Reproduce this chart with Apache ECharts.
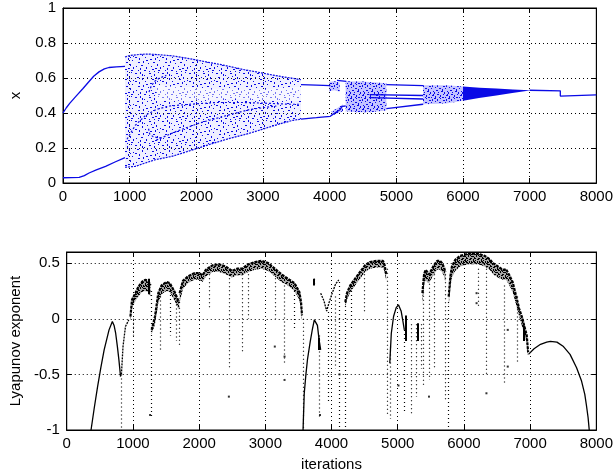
<!DOCTYPE html>
<html><head><meta charset="utf-8">
<script src="https://cdn.jsdelivr.net/npm/echarts@6/dist/echarts.min.js"></script>
<style>html,body{margin:0;padding:0;background:#fff}#c{width:616px;height:476px}</style>
</head><body><div id="c"></div>
<script>
// ================= DATA: top panel (x vs iterations) =================
const xTickValues = [0, 1000, 2000, 3000, 4000, 5000, 6000, 7000, 8000];
const xTopTicks = [0, 0.2, 0.4, 0.6, 0.8, 1];
const lyapTicks = [-1, -0.5, 0, 0.5];

const earlyUpper = [[0,0.40],[50,0.43],[100,0.455],[193,0.495],[300,0.54],[391,0.58],[460,0.61],[540,0.635],[620,0.652],[689,0.66],[800,0.664],[930,0.666]];
const earlyLower = [[0,0.03],[243,0.032],[320,0.042],[391,0.057],[500,0.075],[639,0.095],[780,0.12],[930,0.145]];

const cloud1Upper = [[930,0.72],[1000,0.728],[1150,0.735],[1283,0.737],[1450,0.733],[1631,0.727],[1800,0.717],[1978,0.705],[2175,0.69],[2375,0.676],[2572,0.66],[2721,0.647],[2900,0.635],[3100,0.62],[3300,0.607],[3450,0.598],[3570,0.59]];
const cloud1Lower = [[930,0.09],[1085,0.095],[1200,0.11],[1383,0.133],[1631,0.152],[1878,0.181],[2075,0.205],[2275,0.229],[2500,0.255],[2721,0.276],[2900,0.296],[3100,0.32],[3300,0.343],[3450,0.358],[3570,0.365]];
const cloud1GapTop = [[1400,0.56],[1800,0.55],[2200,0.54],[2600,0.535],[3000,0.535],[3300,0.545],[3570,0.55]];
const cloud1GapBottom = [[1400,0.47],[1800,0.47],[2200,0.475],[2600,0.48],[3000,0.475],[3300,0.47],[3570,0.47]];
const cloud1Inner1 = [[960,0.25],[1085,0.33],[1250,0.39],[1400,0.42],[1600,0.44],[1900,0.45],[2300,0.46],[2700,0.46],[3100,0.455],[3400,0.45],[3570,0.45]];
const cloud1Inner2 = [[1400,0.245],[1700,0.295],[2050,0.343],[2400,0.38],[2800,0.42],[3200,0.44]];
const hookUpper = [[1290,0.52],[1320,0.55],[1370,0.58],[1450,0.60],[1550,0.615]];
const hookLower = [[1283,0.31],[1300,0.28],[1350,0.265],[1430,0.258],[1500,0.26]];

const midUpperLine = [[3570,0.562],[3800,0.559],[4010,0.556]];
const midLowerLine = [[3570,0.365],[3800,0.373],[4010,0.381],[4060,0.396],[4160,0.42],[4183,0.438],[4240,0.44]];
const cloud2Upper = [[3990,0.578],[4070,0.582],[4150,0.575]];
const cloud2Lower = [[3990,0.525],[4070,0.53],[4150,0.522]];
const step4100Line = [[4110,0.586],[4250,0.581]];
const blob4100Upper = [[4030,0.41],[4100,0.425],[4200,0.45]];
const blob4100Lower = [[4030,0.385],[4100,0.395],[4200,0.41]];
const cloud3Upper = [[4240,0.582],[4500,0.58],[4700,0.575],[4850,0.57]];
const cloud3Lower = [[4240,0.41],[4400,0.405],[4600,0.405],[4850,0.415]];
const lateUpperLine = [[4850,0.562],[5400,0.556]];
const lateMidLine1 = [[4600,0.505],[5400,0.50]];
const lateMidLine2 = [[4600,0.488],[5400,0.48]];
const lateLowerLine = [[4850,0.425],[5400,0.45]];
const cloud4Upper = [[5400,0.558],[5750,0.558],[6000,0.552]];
const cloud4Lower = [[5400,0.45],[5750,0.455],[6000,0.47]];
const cloud5Upper = [[6000,0.552],[6250,0.545],[6500,0.54],[6750,0.535],[7000,0.53]];
const cloud5Lower = [[6000,0.47],[6240,0.486],[6500,0.50],[6740,0.514],[7000,0.528]];
const tailLine = [[7000,0.53],[7460,0.527],[7460,0.497],[7480,0.503],[8000,0.503]];

// ================= DATA: bottom panel (Lyapunov exponent) =================
const lyapCurve1 = [[367,-1],[416,-0.80],[466,-0.61],[515,-0.44],[565,-0.28],[639,-0.10],[689,-0.024],[715,-0.06],[739,-0.13],[765,-0.25],[788,-0.37],[813,-0.52]];
const lyapCurve1b = [[826,-0.50],[850,-0.25],[887,-0.07],[937,-0.01]];
const arch1Top = [[962,0.02],[986,0.17],[1036,0.23],[1085,0.29],[1135,0.33],[1185,0.35],[1234,0.34],[1265,0.30]];
const arch1Bot = [[962,-0.02],[986,0.10],[1036,0.16],[1085,0.20],[1135,0.24],[1185,0.25],[1234,0.24],[1265,0.20]];
const arch2Top = [[1283,-0.10],[1333,0.02],[1383,0.23],[1432,0.30],[1507,0.33],[1557,0.32],[1631,0.24],[1680,0.17],[1700,0.14]];
const arch2Bot = [[1283,-0.14],[1333,-0.05],[1383,0.14],[1432,0.22],[1507,0.25],[1557,0.24],[1631,0.16],[1680,0.10],[1700,0.08]];
const arch3Top = [[1705,0.23],[1755,0.34],[1829,0.38],[1928,0.41],[2003,0.41],[2052,0.39],[2101,0.44],[2201,0.48],[2300,0.49],[2399,0.47],[2498,0.43],[2572,0.45],[2647,0.45],[2746,0.49],[2845,0.51],[2944,0.52],[3044,0.50],[3143,0.45],[3242,0.40],[3341,0.36],[3440,0.32],[3514,0.24],[3539,0.15],[3554,0.03]];
const arch3Bot = [[1705,0.14],[1755,0.27],[1829,0.32],[1928,0.35],[2003,0.35],[2052,0.33],[2101,0.38],[2201,0.42],[2300,0.42],[2399,0.40],[2498,0.37],[2572,0.39],[2647,0.39],[2746,0.42],[2845,0.44],[2944,0.45],[3044,0.43],[3143,0.38],[3242,0.33],[3341,0.30],[3440,0.25],[3514,0.17],[3539,0.08],[3554,-0.02]];
const lyapCurve2 = [[3570,-1],[3575,-0.9],[3588,-0.67],[3613,-0.50],[3638,-0.36],[3677,-0.21],[3712,-0.09],[3740,-0.01],[3752,0.005],[3787,-0.06],[3812,-0.19],[3836,-0.28]];
const vShape = [[3836,0.23],[3886,0.16],[3926,0.07],[3960,0.14],[4010,0.23],[4060,0.31],[4109,0.35]];
const arch4Top = [[4208,0.15],[4233,0.23],[4283,0.30],[4357,0.36],[4431,0.42],[4506,0.48],[4580,0.51],[4680,0.52],[4778,0.52],[4803,0.48],[4825,0.40]];
const arch4Bot = [[4208,0.10],[4233,0.17],[4283,0.24],[4357,0.30],[4431,0.36],[4506,0.42],[4580,0.45],[4680,0.46],[4778,0.46],[4803,0.42],[4825,0.34]];
const lyapCurve3 = [[4880,-0.40],[4903,-0.13],[4937,0.02],[4977,0.10],[5011,0.125],[5051,0.07],[5075,-0.01],[5100,-0.10]];
const arch5Top = [[5373,0.23],[5398,0.40],[5422,0.44],[5447,0.42],[5472,0.40],[5510,0.44],[5546,0.48],[5596,0.52],[5640,0.52],[5670,0.50],[5700,0.46],[5720,0.42]];
const arch5Bot = [[5373,0.13],[5398,0.30],[5422,0.35],[5447,0.33],[5472,0.32],[5510,0.36],[5546,0.40],[5596,0.44],[5640,0.44],[5670,0.42],[5700,0.38],[5720,0.33]];
const arch6Top = [[5770,0.20],[5795,0.38],[5819,0.47],[5869,0.53],[5943,0.565],[6067,0.585],[6216,0.585],[6315,0.565],[6390,0.535],[6439,0.50],[6513,0.47],[6587,0.44],[6637,0.445],[6687,0.39],[6736,0.33],[6786,0.21],[6835,0.09],[6885,0.0],[6910,-0.06],[6949,-0.15],[6970,-0.30]];
const arch6Bot = [[5770,0.12],[5795,0.28],[5819,0.37],[5869,0.43],[5943,0.47],[6067,0.49],[6216,0.49],[6315,0.47],[6390,0.44],[6439,0.40],[6513,0.37],[6587,0.35],[6637,0.35],[6687,0.30],[6736,0.24],[6786,0.13],[6835,0.02],[6885,-0.08],[6910,-0.13],[6949,-0.22],[6965,-0.33]];
const lyapCurve4 = [[6975,-0.32],[7000,-0.31],[7059,-0.27],[7157,-0.23],[7250,-0.21],[7306,-0.204],[7405,-0.21],[7504,-0.25],[7603,-0.32],[7702,-0.44],[7777,-0.56],[7826,-0.68],[7851,-0.78],[7876,-0.89],[7893,-1]];
// vertical dotted streaks: [iteration, top, bottom]
const lyapColumns = [[820,-0.5,-1],[1000,0.0,-0.15],[1270,0.25,-0.9],[1420,0.2,-0.3],[1557,0.25,-0.15],[1650,0.2,-0.2],[1700,0.1,-0.25],[2150,0.4,0.1],[2460,0.4,-0.45],[2650,0.4,-0.3],[2746,0.4,0.0],[3143,0.4,0.0],[3285,0.3,-0.4],[3440,0.25,-0.1],[3580,0.0,-1],[3737,0.36,0.29],[3812,-0.15,-0.9],[3955,0.06,-0.75],[4050,0.2,-0.45],[4120,0.33,-1],[4208,0.15,-1],[4300,0.25,-0.1],[4500,0.4,0.05],[4848,0.45,-0.88],[4880,-0.25,-0.9],[5100,-0.1,-0.85],[5204,-0.05,-0.85],[5274,-0.05,-0.7],[5348,-0.05,-0.45],[5383,0.35,-0.6],[5472,0.35,-0.55],[5546,0.4,-0.45],[5720,0.4,-0.75],[5770,0.15,-1],[6216,0.45,0.1],[6340,0.45,-0.5],[6612,0.3,-0.6],[6810,0.2,-0.4]];
// short solid streaks: [iteration, top, bottom]
const lyapBars = [[3812,-0.17,-0.28],[5126,0.03,-0.2],[5300,-0.04,-0.2],[6910,-0.06,-0.2],[1240,0.36,0.22],[3737,0.36,0.30]];
const lyapDots = [[2449,-0.70],[1259,-0.865],[3290,-0.34],[3290,-0.55],[3143,-0.25],[5472,-0.70],[3826,-0.865],[6340,-0.67],[6662,-0.43],[6662,-0.10],[6191,0.23],[6191,0.14],[4120,-0.5],[5011,-0.6]];

// ================= RENDER =================
const FONT = 'Liberation Sans, Arial, sans-serif';
const BLUE = '#0a0ae6';

function makePattern(color, dots, w, h, bg) {
  const c = document.createElement('canvas'); c.width = w; c.height = h;
  const g = c.getContext('2d');
  if (bg) { g.fillStyle = bg; g.fillRect(0, 0, w, h); }
  g.fillStyle = color;
  dots.forEach((d, i) => g.fillRect(d[0], d[1], i % 3 === 0 ? 2 : 1, i % 3 === 1 ? 2 : 1));
  return { image: c, repeat: 'repeat' };
}
const sparseTile = [[0,1],[5,0],[9,3],[14,1],[19,2],[23,0],[2,5],[7,6],[12,5],[17,7],[21,5],[25,8],[0,9],[4,10],[10,9],[15,11],[20,10],[24,12],[3,14],[8,13],[13,15],[18,14],[22,16],[1,18],[6,17],[11,19],[16,18],[20,20],[25,19],[3,22],[9,22],[14,23],[19,23],[23,22],[7,2],[16,4],[11,12],[5,20],[22,9],[17,21]];
const denseTile = [[0,0],[3,1],[6,0],[9,2],[12,1],[1,3],[5,4],[8,5],[11,4],[2,6],[0,8],[4,8],[7,7],[10,8],[13,7],[3,10],[6,11],[9,10],[12,11],[1,12],[5,13],[8,13],[11,13],[13,10]];
const blackTile = [[0,0],[2,1],[4,0],[6,2],[1,3],[3,4],[5,3],[7,5],[0,6],[2,6],[4,7],[6,7],[1,5],[5,5],[3,2],[7,0]];
const blueSparse = makePattern(BLUE, sparseTile, 27, 24, 'rgba(120,120,255,0.12)');
const blueDense = makePattern(BLUE, denseTile, 14, 14, 'rgba(60,60,255,0.30)');
const blackDense = makePattern('#000', blackTile, 8, 8, 'rgba(0,0,0,0.35)');

function band(upper, lower, fill, gi, z) {
  return {
    type: 'custom', xAxisIndex: gi * 2, yAxisIndex: gi * 2, z: z || 2, silent: true,
    data: [[upper[0][0], upper[0][1]]],
    renderItem: function (params, api) {
      const pts = upper.map(p => api.coord(p)).concat(lower.slice().reverse().map(p => api.coord(p)));
      return { type: 'polygon', shape: { points: pts }, style: { fill: fill, stroke: null } };
    }
  };
}
function line(data, color, width, gi, type, z) {
  return { type: 'line', data: data, xAxisIndex: gi * 2, yAxisIndex: gi * 2, symbol: 'none', silent: true,
    lineStyle: { color: color, width: width, type: type || 'solid' }, z: z || 4 };
}

const gridLine = { type: [1, 3], color: '#000', width: 1 };
function xAx(gi, pos, name) {
  const main = pos === 'bottom';
  return {
    gridIndex: gi, type: 'value', min: xTickValues[0], max: xTickValues[xTickValues.length - 1], interval: 1000, position: pos,
    name: name || '', nameLocation: 'middle', nameGap: 27,
    nameTextStyle: { color: '#000', fontSize: 15, fontFamily: FONT },
    axisLine: { show: true, onZero: false, lineStyle: { color: '#000', width: 1 } },
    axisTick: { show: true, inside: true, length: 5, lineStyle: { color: '#000' } },
    axisLabel: { show: main, color: '#000', fontSize: 15, fontFamily: FONT, margin: 6, formatter: v => String(v) },
    splitLine: { show: main, lineStyle: gridLine }
  };
}
function yAx(gi, pos, min, max, interval, name, hideMax) {
  const main = pos === 'left';
  return {
    gridIndex: gi, type: 'value', min: min, max: max, interval: interval, position: pos,
    name: name || '', nameLocation: 'middle', nameGap: 40,
    nameTextStyle: { color: '#000', fontSize: 15, fontFamily: FONT },
    axisLine: { show: true, onZero: false, lineStyle: { color: '#000', width: 1 } },
    axisTick: { show: true, inside: true, length: 5, lineStyle: { color: '#000' } },
    axisLabel: { show: main, color: '#000', fontSize: 15, fontFamily: FONT, margin: 7, showMaxLabel: !hideMax, formatter: v => String(v) },
    splitLine: { show: main, lineStyle: gridLine }
  };
}

const series = [];
// top panel
series.push(band(cloud1Upper, cloud1Lower, blueSparse, 0, 2));
series.push(band(cloud1GapTop, cloud1GapBottom, 'rgba(255,255,255,0.45)', 0, 3));
series.push(band(cloud2Upper, cloud2Lower, blueDense, 0, 2));
series.push(band(blob4100Upper, blob4100Lower, blueDense, 0, 2));
series.push(band(cloud3Upper, cloud3Lower, blueDense, 0, 2));
series.push(band(cloud4Upper, cloud4Lower, blueDense, 0, 2));
series.push(band(cloud5Upper, cloud5Lower, BLUE, 0, 2));
[earlyUpper, earlyLower, midUpperLine, midLowerLine, step4100Line, lateUpperLine, lateMidLine1, lateMidLine2, lateLowerLine, tailLine]
  .forEach(d => series.push(line(d, BLUE, 1.3, 0)));
[cloud1Upper, cloud1Lower].forEach(d => series.push(line(d, BLUE, 1.2, 0, [2, 1])));
[cloud1Inner1, cloud1Inner2, hookUpper, hookLower].forEach(d => series.push(line(d, BLUE, 1.2, 0, [2, 2])));
// bottom panel
[[arch1Top, arch1Bot], [arch2Top, arch2Bot], [arch3Top, arch3Bot], [arch4Top, arch4Bot], [arch5Top, arch5Bot], [arch6Top, arch6Bot]]
  .forEach(p => { series.push(band(p[0], p[1], blackDense, 1, 2)); series.push(line(p[0], '#000', 2.2, 1, [3, 1])); });
[lyapCurve1, lyapCurve2, lyapCurve3, lyapCurve4].forEach(d => series.push(line(d, '#000', 1.3, 1)));
[lyapCurve1b, vShape].forEach(d => series.push(line(d, '#000', 1.3, 1, [2, 1])));
series.push({
  type: 'lines', coordinateSystem: 'cartesian2d', xAxisIndex: 2, yAxisIndex: 2, silent: true, z: 3,
  data: lyapColumns.map(c => ({ coords: [[c[0], c[1]], [c[0], c[2]]] })),
  lineStyle: { color: '#000', width: 1.2, type: [1, 3], opacity: 1 }
});
series.push({
  type: 'lines', coordinateSystem: 'cartesian2d', xAxisIndex: 2, yAxisIndex: 2, silent: true, z: 3,
  data: lyapBars.map(c => ({ coords: [[c[0], c[1]], [c[0], c[2]]] })),
  lineStyle: { color: '#000', width: 2, opacity: 1 }
});
series.push({ type: 'scatter', xAxisIndex: 2, yAxisIndex: 2, data: lyapDots, symbol: 'rect', symbolSize: 2,
  itemStyle: { color: '#000' }, silent: true, z: 3 });

const chart = echarts.init(document.getElementById('c'), null, { renderer: 'canvas' });
chart.setOption({
  animation: false,
  backgroundColor: '#fff',
  textStyle: { fontFamily: FONT },
  grid: [
    { left: 62, top: 8, width: 538, height: 175, show: true, borderColor: '#000', borderWidth: 1, backgroundColor: '#fff' },
    { left: 62, top: 252, width: 538, height: 178, show: true, borderColor: '#000', borderWidth: 1, backgroundColor: '#fff' }
  ],
  xAxis: [xAx(0, 'bottom'), xAx(0, 'top'), xAx(1, 'bottom', 'iterations'), xAx(1, 'top')],
  yAxis: [yAx(0, 'left', xTopTicks[0], xTopTicks[xTopTicks.length - 1], 0.2, 'x'), yAx(0, 'right', 0, 1, 0.2),
          yAx(1, 'left', lyapTicks[0], 0.6, 0.5, 'Lyapunov exponent', true), yAx(1, 'right', -1, 0.6, 0.5)],
  series: series
});
</script>
</body></html>
